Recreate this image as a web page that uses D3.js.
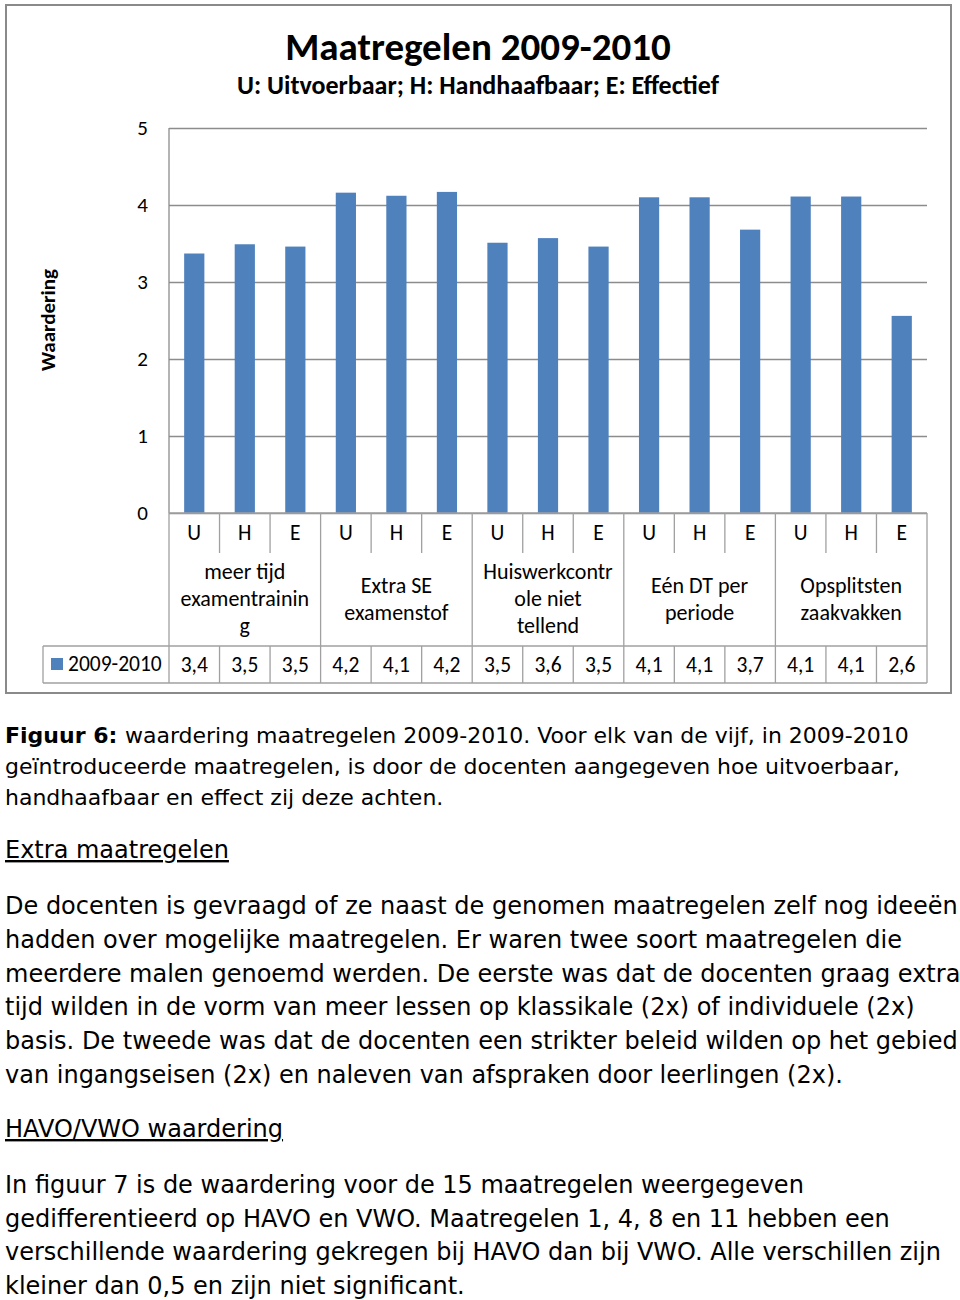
<!DOCTYPE html>
<html>
<head>
<meta charset="utf-8">
<script src="https://cdn.jsdelivr.net/npm/d3@7"></script>
<style>
  body { margin: 0; background: #fff; }
  svg { display: block; }
</style>
</head>
<body>
<div id="chart"></div>
<script>
// data
var groupLabels = [
    ["meer tijd", "examentrainin", "g"],
    ["Extra SE", "examenstof"],
    ["Huiswerkcontr", "ole niet", "tellend"],
    ["Eén DT per", "periode"],
    ["Opsplitsten", "zaakvakken"]
];
var subLabels = ["U", "H", "E"];
var seriesName = "2009-2010";
var values = [3.37, 3.49, 3.46, 4.16, 4.12, 4.17, 3.51, 3.57, 3.46, 4.10, 4.10, 3.68, 4.11, 4.11, 2.56];
var yTicks = [0, 1, 2, 3, 4, 5];

var captionLines = [
    "waardering maatregelen 2009-2010. Voor elk van de vijf, in 2009-2010",
    "geïntroduceerde maatregelen, is door de docenten aangegeven hoe uitvoerbaar,",
    "handhaafbaar en effect zij deze achten."
];
var para1 = [
    "De docenten is gevraagd of ze naast de genomen maatregelen zelf nog ideeën",
    "hadden over mogelijke maatregelen. Er waren twee soort maatregelen die",
    "meerdere malen genoemd werden. De eerste was dat de docenten graag extra",
    "tijd wilden in de vorm van meer lessen op klassikale (2x) of individuele (2x)",
    "basis. De tweede was dat de docenten een strikter beleid wilden op het gebied",
    "van ingangseisen (2x) en naleven van afspraken door leerlingen (2x)."
];
var para2 = [
    "In figuur 7 is de waardering voor de 15 maatregelen weergegeven",
    "gedifferentieerd op HAVO en VWO. Maatregelen 1, 4, 8 en 11 hebben een",
    "verschillende waardering gekregen bij HAVO dan bij VWO. Alle verschillen zijn",
    "kleiner dan 0,5 en zijn niet significant."
];

var width = 960, height = 1300;
var chartFont = "Carlito, Lato, 'Open Sans', sans-serif";
var textFont = "'DejaVu Sans', Verdana, sans-serif";
var blue = "#4f81bd", grid = "#8c8c8c", line = "#a0a0a0";

var svg = d3.select("#chart").append("svg")
    .attr("width", width)
    .attr("height", height);

// chart frame
svg.append("rect")
    .attr("x", 6).attr("y", 5)
    .attr("width", 945).attr("height", 688)
    .attr("fill", "none")
    .attr("stroke", "#8a8a8a")
    .attr("stroke-width", 2);

var plotLeft = 169, plotRight = 927, plotTop = 128, base = 513;
var rowLabel = 553, rowGroup = 646, rowData = 683, legendLeft = 43;

var n = values.length;
var x = d3.scaleBand().domain(d3.range(n)).range([plotLeft, plotRight]);
var y = d3.scaleLinear().domain([0, 5]).range([base, plotTop]);
var fmt = function(v) { return d3.format(".1f")(v).replace(".", ","); };

// titles
svg.append("text")
    .attr("x", 478).attr("y", 60)
    .attr("text-anchor", "middle")
    .style("font-family", chartFont)
    .style("font-weight", "bold")
    .style("font-size", "39px")
    .text("Maatregelen 2009-2010");

svg.append("text")
    .attr("x", 478).attr("y", 94)
    .attr("text-anchor", "middle")
    .style("font-family", chartFont)
    .style("font-weight", "bold")
    .style("font-size", "26px")
    .text("U: Uitvoerbaar; H: Handhaafbaar; E: Effectief");

// gridlines + y labels
var yAxis = svg.append("g")
    .attr("transform", "translate(" + plotLeft + ",0)")
    .call(d3.axisLeft(y)
        .tickValues(yTicks)
        .tickFormat(d3.format("d"))
        .tickSize(-(plotRight - plotLeft))
        .tickPadding(21));
yAxis.select(".domain").remove();
yAxis.selectAll(".tick line")
    .attr("stroke", grid)
    .attr("stroke-width", 1.3);
yAxis.selectAll(".tick text")
    .style("font-family", chartFont)
    .style("font-size", "21px")
    .attr("fill", "#000");

svg.append("text")
    .attr("transform", "translate(55,320) rotate(-90)")
    .attr("text-anchor", "middle")
    .style("font-family", chartFont)
    .style("font-weight", "bold")
    .style("font-size", "21px")
    .text("Waardering");

// plot left edge
svg.append("line")
    .attr("x1", plotLeft).attr("x2", plotLeft)
    .attr("y1", plotTop).attr("y2", base)
    .attr("stroke", grid).attr("stroke-width", 1.3);

// bars
var bw = x.bandwidth() * 0.4;
svg.selectAll("rect.bar")
    .data(values)
    .enter()
    .append("rect")
        .attr("class", "bar")
        .attr("x", function(d, i) { return x(i) + (x.bandwidth() - bw) / 2; })
        .attr("y", function(d) { return y(d); })
        .attr("width", bw)
        .attr("height", function(d) { return y(0) - y(d); })
        .attr("fill", blue);

// data table under the axis
var tbl = svg.append("g")
    .attr("stroke", line)
    .attr("stroke-width", 1.3);

// boundaries between categories
d3.range(n + 1).forEach(function(i) {
    var xx = i < n ? x(i) : plotRight;
    var isGroup = i % 3 === 0;
    tbl.append("line")
        .attr("x1", xx).attr("x2", xx)
        .attr("y1", isGroup ? base : rowGroup)
        .attr("y2", rowData);
    if (!isGroup) {
        tbl.append("line")
            .attr("x1", xx).attr("x2", xx)
            .attr("y1", base).attr("y2", rowLabel);
    }
});
tbl.append("line").attr("x1", plotLeft).attr("x2", plotRight).attr("y1", base).attr("y2", base);
tbl.append("line").attr("x1", legendLeft).attr("x2", plotRight).attr("y1", rowGroup).attr("y2", rowGroup);
tbl.append("line").attr("x1", legendLeft).attr("x2", plotRight).attr("y1", rowData).attr("y2", rowData);
tbl.append("line").attr("x1", legendLeft).attr("x2", legendLeft).attr("y1", rowGroup).attr("y2", rowData);

// U / H / E labels
svg.selectAll("text.sub")
    .data(values)
    .enter()
    .append("text")
        .attr("class", "sub")
        .attr("x", function(d, i) { return x(i) + x.bandwidth() / 2; })
        .attr("y", 540)
        .attr("text-anchor", "middle")
        .style("font-family", chartFont)
        .style("font-size", "21.5px")
        .text(function(d, i) { return subLabels[i % 3]; });

// group labels
var gl = svg.selectAll("text.group")
    .data(groupLabels)
    .enter()
    .append("text")
        .attr("class", "group")
        .attr("text-anchor", "middle")
        .style("font-family", chartFont)
        .style("font-size", "22px");
gl.selectAll("tspan")
    .data(function(d, gi) {
        return d.map(function(s, k) { return { s: s, k: k, n: d.length, gi: gi }; });
    })
    .enter()
    .append("tspan")
        .attr("x", function(d) { return x(d.gi * 3 + 1) + x.bandwidth() / 2; })
        .attr("y", function(d) { return 599 + 7 + (d.k - (d.n - 1) / 2) * 27; })
        .text(function(d) { return d.s; });

// legend cell
svg.append("rect")
    .attr("x", 51).attr("y", 658)
    .attr("width", 12).attr("height", 12)
    .attr("fill", blue);
svg.append("text")
    .attr("x", 68).attr("y", 671)
    .style("font-family", chartFont)
    .style("font-size", "21.5px")
    .text(seriesName);

// data values
svg.selectAll("text.val")
    .data(values)
    .enter()
    .append("text")
        .attr("class", "val")
        .attr("x", function(d, i) { return x(i) + x.bandwidth() / 2; })
        .attr("y", 672)
        .attr("text-anchor", "middle")
        .style("font-family", chartFont)
        .style("font-size", "21.5px")
        .text(function(d) { return fmt(d); });

// text below the chart
var body = svg.append("g")
    .style("font-family", textFont)
    .attr("fill", "#000");

var cap = body.append("text")
    .attr("x", 5).attr("y", 743)
    .style("font-size", "22px");
cap.append("tspan").style("font-weight", "bold").text("Figuur 6: ");
cap.append("tspan").text(captionLines[0]);
body.selectAll("text.cap")
    .data(captionLines.slice(1))
    .enter()
    .append("text")
        .attr("class", "cap")
        .attr("x", 5)
        .attr("y", function(d, i) { return 774 + i * 31; })
        .style("font-size", "22px")
        .text(function(d) { return d; });

function heading(label, yy) {
    body.append("text")
        .attr("x", 5).attr("y", yy)
        .style("font-size", "24px")
        .style("text-decoration", "underline")
        .text(label);
}
heading("Extra maatregelen", 858);
heading("HAVO/VWO waardering", 1137);

body.selectAll("text.p1")
    .data(para1)
    .enter()
    .append("text")
        .attr("class", "p1")
        .attr("x", 5)
        .attr("y", function(d, i) { return 914 + i * 33.8; })
        .style("font-size", "24px")
        .text(function(d) { return d; });

body.selectAll("text.p2")
    .data(para2)
    .enter()
    .append("text")
        .attr("class", "p2")
        .attr("x", 5)
        .attr("y", function(d, i) { return 1193 + i * 33.6; })
        .style("font-size", "24px")
        .text(function(d) { return d; });
</script>
</body>
</html>
